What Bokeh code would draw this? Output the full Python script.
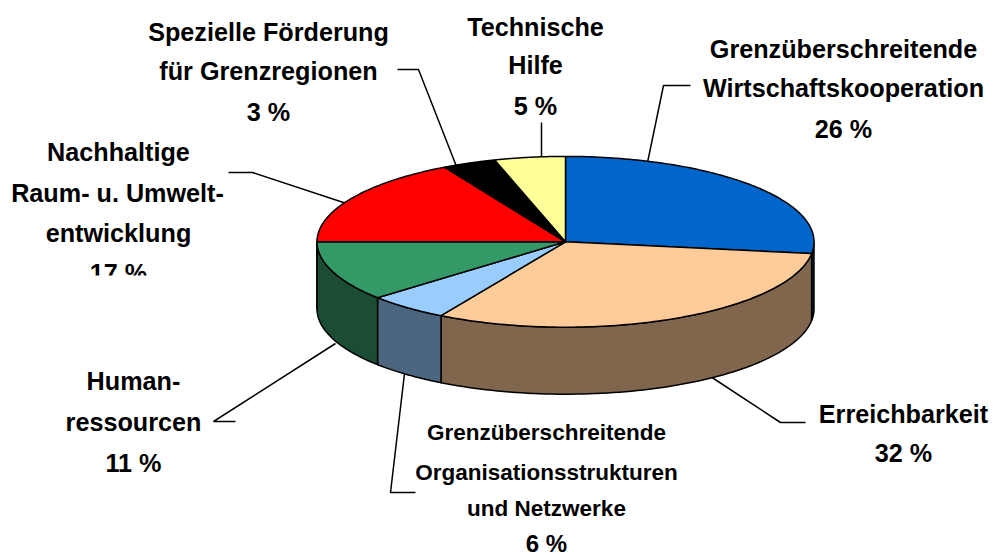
import numpy as np
from bokeh.plotting import figure
from bokeh.models import ColumnDataSource
from bokeh.core.properties import value
from bokeh.embed import file_html
from bokeh.resources import INLINE

# Data
categories = ["Grenzüberschreitende Wirtschaftskooperation", "Erreichbarkeit",
              "Grenzüberschreitende Organisationsstrukturen und Netzwerke",
              "Humanressourcen", "Nachhaltige Raum- u. Umweltentwicklung",
              "Spezielle Förderung für Grenzregionen", "Technische Hilfe"]
printed_percent = [26, 32, 6, 11, 17, 3, 5]
drawn_share = [27.2, 31.15, 5.3, 11.35, 16.9, 3.5, 4.6]
top_colors = ["#0066cc", "#ffcc99", "#99ccff", "#339966", "#ff0000", "#000000", "#ffff99"]
side_colors = ["#032a50", "#7f664d", "#4d6680", "#1a4d33", "#800000", "#000000", "#808050"]

# Layout (pixel coordinates of the page)
CX, CY, RX, RY, DEPTH = 565.0, 241.3, 248.5, 85.4, 67.0
W, H = 993, 557
BIG, SMALL = 25.2, 22.5

p = figure(width=W, height=H, x_range=(0, W), y_range=(H, 0),
           toolbar_location=None, output_backend="svg", min_border=0)
p.axis.visible = False
p.grid.visible = False
p.outline_line_color = None
p.background_fill_color = "white"

def pt(t):
    return CX + RX * np.sin(t), CY - RY * np.cos(t)

# Leader lines (behind the pie)
leaders = [
    ([690, 663, 647], [85, 85, 162]),
    ([805, 780, 710], [422, 422, 376]),
    ([415, 390, 404], [492, 492, 373]),
    ([235, 213, 335], [421, 421, 343]),
    ([228, 252, 346], [172, 172, 203]),
    ([397, 418, 456], [69, 69, 166]),
    ([541, 541], [122, 158]),
]
p.multi_line([l[0] for l in leaders], [l[1] for l in leaders], line_color="black", line_width=1.5)

edges = np.cumsum([0.0] + drawn_share) / sum(drawn_share) * 2 * np.pi

# Side walls
for i, c in enumerate(side_colors):
    a, b = max(edges[i], np.pi / 2), min(edges[i + 1], 3 * np.pi / 2)
    if b <= a:
        continue
    t = np.linspace(a, b, 80)
    x, y = pt(t)
    p.patch(np.r_[x, x[::-1]], np.r_[y, y[::-1] + DEPTH], fill_color=c,
            line_color="black", line_width=1.5, line_join="round")

# Top slices
for i, c in enumerate(top_colors):
    t = np.linspace(edges[i], edges[i + 1], 100)
    x, y = pt(t)
    p.patch(np.r_[CX, x], np.r_[CY, y], fill_color=c,
            line_color="black", line_width=1.5, line_join="round")

# Labels
labels = [
    ("Spezielle Förderung", 268, 31, BIG), ("für Grenzregionen", 268, 70, BIG), ("3 %", 268, 111, BIG),
    ("Technische", 535, 26, BIG), ("Hilfe", 535, 64, BIG), ("5 %", 535, 105, BIG),
    ("Grenzüberschreitende", 843, 48, BIG), ("Wirtschaftskooperation", 843, 87, BIG), ("26 %", 843, 128, BIG),
    ("Nachhaltige", 118, 151, BIG), ("Raum- u. Umwelt-", 117, 192, BIG), ("entwicklung", 118, 232, BIG), ("17 %", 118, 272, BIG),
    ("Human-", 133, 380, BIG), ("ressourcen", 133, 421, BIG), ("11 %", 133, 462, BIG),
    ("Erreichbarkeit", 903, 413, BIG), ("32 %", 903, 452, BIG),
    ("Grenzüberschreitende", 546, 432, SMALL), ("Organisationsstrukturen", 546, 472, SMALL),
    ("und Netzwerke", 546, 508, SMALL), ("6 %", 546, 543, 24),
]
src = ColumnDataSource(dict(t=[l[0] for l in labels], x=[l[1] for l in labels], y=[l[2] for l in labels],
                            s=[f"{l[3]}px" for l in labels]))
p.text("x", "y", text="t", source=src, text_font=value("Liberation Sans"), text_font_style="bold",
       text_font_size="s", text_align="center", text_baseline="middle", text_color="black")

# The source chart cuts off the lower part of the "17 %" label
p.quad(left=[60], right=[200], top=[275], bottom=[292], fill_color="white", line_color=None)

open("out.html", "w").write(file_html(p, INLINE))
